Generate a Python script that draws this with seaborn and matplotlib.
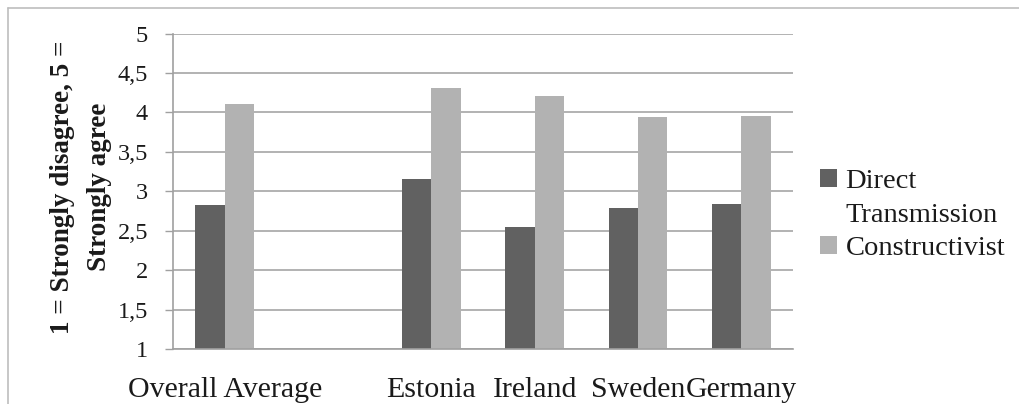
import matplotlib
matplotlib.use("Agg")
import matplotlib.pyplot as plt
from matplotlib.lines import Line2D
from matplotlib.patches import Rectangle
import pandas as pd
import seaborn as sns

# Survey means per group (1 = strongly disagree, 5 = strongly agree)
categories = ["Overall Average", " ", "Estonia", "Ireland", "Sweden", "Germany"]
groups = ["Overall Average", "Estonia", "Ireland", "Sweden", "Germany"]
direct_transmission = [2.82, 3.15, 2.55, 2.79, 2.84]
constructivist = [4.11, 4.31, 4.21, 3.94, 3.95]
series_names = ["Direct Transmission", "Constructivist"]
series_colors = ["#616161", "#B2B2B2"]
y_ticks = [1, 1.5, 2, 2.5, 3, 3.5, 4, 4.5, 5]
y_tick_labels = ["1", "1,5", "2", "2,5", "3", "3,5", "4", "4,5", "5"]

df = pd.DataFrame({
    "group": groups * 2,
    "series": [series_names[0]] * len(groups) + [series_names[1]] * len(groups),
    "value": direct_transmission + constructivist,
})

sns.set_theme(style="white")
plt.rcParams["font.family"] = ["Liberation Serif", "DejaVu Serif"]

fig = plt.figure(figsize=(10.19, 4.04), dpi=100)
ax = fig.add_axes([173 / 1019, 1 - 349 / 404, 620 / 1019, (349 - 33.5) / 404])

sns.barplot(data=df, x="group", y="value", hue="series", order=categories,
            hue_order=series_names, palette=series_colors, width=0.567,
            saturation=1, linewidth=0, errorbar=None, legend=False, ax=ax)

ax.set_ylim(1, 5)
ax.set_xlim(-0.5, len(categories) - 0.5)
ax.set_yticks(y_ticks)
ax.set_yticklabels(y_tick_labels, fontsize=17.5, color="#1a1a1a")
ax.tick_params(axis="y", length=6, width=1, color="#A0A0A0", pad=12, left=True)
ax.tick_params(axis="x", length=0, pad=20, labelsize=21.5, labelcolor="#1a1a1a")
ax.set_xlabel("")
ax.set_ylabel("")
ax.yaxis.grid(True, color="#A6A6A6", linewidth=1.2)
ax.set_axisbelow(True)
for side in ["top", "right"]:
    ax.spines[side].set_visible(False)
for side in ["left", "bottom"]:
    ax.spines[side].set_color("#A0A0A0")
    ax.spines[side].set_linewidth(1.2)

fig.text(81 / 1019, 1 - 187 / 404, "1 = Strongly disagree, 5 =\nStrongly agree",
         rotation=90, ha="center", va="center", multialignment="center",
         fontsize=19.5, fontweight="bold", linespacing=1.6, color="#1a1a1a")

# Legend: the long series name wraps onto a second row without its own swatch
handles = [
    Rectangle((0, 0), 1, 1, facecolor=series_colors[0], edgecolor="none"),
    Rectangle((0, 0), 1, 1, facecolor="none", edgecolor="none"),
    Rectangle((0, 0), 1, 1, facecolor=series_colors[1], edgecolor="none"),
]
labels = ["Direct", "Transmission", "Constructivist"]
fig.legend(handles, labels, loc="center left", bbox_to_anchor=(820 / 1019, 1 - 215 / 404),
           frameon=False, fontsize=20.5, handlelength=0.6, handleheight=0.6,
           handletextpad=0.3, labelspacing=0.3, borderpad=0, borderaxespad=0,
           labelcolor="#1a1a1a")

# Thin frame lines along the top and left edges
fig.add_artist(Line2D([8 / 1019, 1], [1 - 8 / 404, 1 - 8 / 404], transform=fig.transFigure,
                      color="#BDBDBD", linewidth=1.2))
fig.add_artist(Line2D([8 / 1019, 8 / 1019], [0, 1 - 8 / 404], transform=fig.transFigure,
                      color="#BDBDBD", linewidth=1.2))

fig.savefig("out.png", dpi=100, facecolor="white")
